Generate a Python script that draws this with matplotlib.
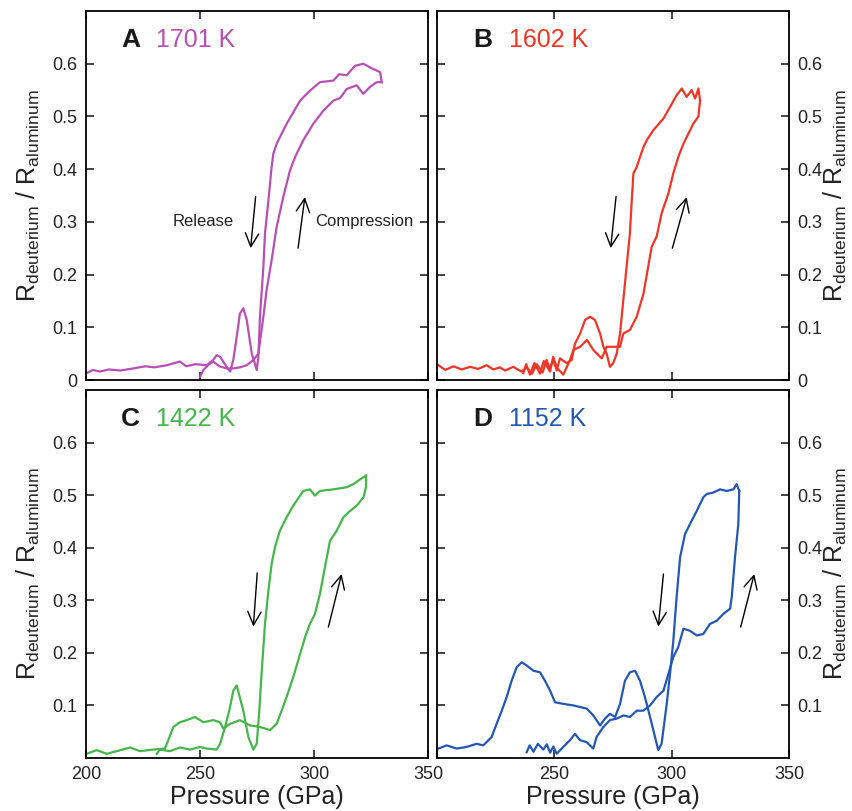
import matplotlib
matplotlib.use('Agg')
import matplotlib.pyplot as plt

plt.rcParams['font.family'] = ['Liberation Sans', 'DejaVu Sans']
plt.rcParams['mathtext.default'] = 'regular'

# ---- data (pressure in GPa, R_D / R_Al) ----
# A: 1701 K
a_rel_p = [329.7, 329.0, 325.0, 321.6, 318.0, 314.3, 311.0, 308.5, 302.6, 298.0, 293.9, 288.0, 283.6,
           282.2, 281.4, 280.0, 278.5, 277.8, 276.3, 275.6, 274.9, 272.7, 270.5, 269.0, 267.5, 266.1,
           264.6, 263.2, 261.7, 258.8, 257.3, 255.8, 252.9, 248.0, 244.0, 241.2, 235.4, 230.0, 226.0,
           220.8, 215.0, 210.0, 206.1, 203.0, 200.3]
a_rel_r = [0.565, 0.584, 0.592, 0.600, 0.596, 0.578, 0.580, 0.568, 0.565, 0.548, 0.530, 0.486, 0.448,
           0.430, 0.404, 0.340, 0.278, 0.215, 0.120, 0.044, 0.019, 0.050, 0.114, 0.136, 0.126, 0.082,
           0.038, 0.016, 0.025, 0.044, 0.047, 0.038, 0.028, 0.030, 0.026, 0.035, 0.028, 0.024, 0.026,
           0.022, 0.018, 0.020, 0.016, 0.019, 0.013]
a_cmp_p = [250.0, 251.5, 253.5, 255.8, 258.5, 261.7, 264.6, 267.5, 270.5, 273.4, 275.6, 277.8, 279.2,
           281.4, 283.6, 286.5, 289.5, 291.7, 295.3, 299.7, 304.1, 308.5, 311.5, 314.3, 318.7, 321.6,
           324.6, 327.5, 329.7]
a_cmp_r = [0.006, 0.019, 0.028, 0.035, 0.026, 0.022, 0.022, 0.024, 0.028, 0.038, 0.050, 0.120, 0.170,
           0.227, 0.290, 0.347, 0.398, 0.423, 0.455, 0.486, 0.511, 0.530, 0.535, 0.552, 0.559, 0.543,
           0.556, 0.565, 0.565]

# B: 1602 K
b_rel_p = [312.1, 311.4, 310.0, 308.5, 306.4, 304.3, 302.1, 299.3, 296.5, 292.2, 289.4, 288.0, 286.5,
           285.1, 283.7, 283.0, 282.2, 280.8, 279.4, 278.0, 276.6, 275.1, 273.7, 272.3, 270.9, 269.5,
           267.3, 265.2, 263.1, 261.0, 258.8, 257.4, 255.3, 252.4, 251.0, 249.6, 248.0, 246.7, 245.0,
           242.5, 240.5, 238.2, 236.0, 232.5, 229.0, 226.8, 224.0, 221.2, 217.5, 214.1, 210.5, 207.0,
           203.5, 200.6]
b_rel_r = [0.530, 0.553, 0.534, 0.550, 0.537, 0.553, 0.540, 0.518, 0.496, 0.474, 0.455, 0.442, 0.423,
           0.404, 0.392, 0.341, 0.278, 0.215, 0.152, 0.088, 0.050, 0.032, 0.025, 0.050, 0.063, 0.088,
           0.114, 0.120, 0.114, 0.088, 0.069, 0.038, 0.032, 0.041, 0.018, 0.038, 0.022, 0.038, 0.014,
           0.030, 0.012, 0.024, 0.016, 0.025, 0.018, 0.024, 0.020, 0.028, 0.021, 0.025, 0.020, 0.026,
           0.019, 0.028]
b_cmp_p = [236.8, 238.0, 239.6, 241.5, 243.9, 245.5, 248.2, 249.5, 251.0, 253.8, 256.7, 258.1, 261.0,
           263.9, 266.6, 270.2, 272.3, 275.1, 278.0, 279.4, 282.2, 285.1, 288.0, 290.0, 291.5, 293.6,
           295.7, 298.6, 300.7, 302.8, 305.0, 307.1, 309.2, 311.4, 312.1]
b_cmp_r = [0.013, 0.030, 0.010, 0.032, 0.012, 0.036, 0.016, 0.044, 0.024, 0.010, 0.038, 0.057, 0.063,
           0.076, 0.057, 0.041, 0.063, 0.063, 0.063, 0.088, 0.095, 0.120, 0.164, 0.215, 0.253, 0.272,
           0.316, 0.354, 0.392, 0.423, 0.448, 0.467, 0.486, 0.500, 0.530]

# C: 1422 K
c_cmp_p = [200.3, 204.7, 209.1, 213.5, 219.3, 223.7, 229.5, 234.6, 236.1, 238.3, 241.2, 244.2, 247.8,
           251.5, 255.8, 258.8, 260.2, 263.2, 267.5, 271.9, 276.3, 280.7, 283.6, 285.8, 288.0, 290.9,
           293.9, 296.1, 298.2, 300.4, 302.6, 304.8, 307.0, 309.9, 312.9, 315.8, 318.7, 321.7, 322.8,
           322.8]
c_cmp_r = [0.008, 0.015, 0.008, 0.013, 0.020, 0.013, 0.016, 0.018, 0.034, 0.059, 0.068, 0.072, 0.078,
           0.068, 0.072, 0.068, 0.056, 0.065, 0.072, 0.062, 0.059, 0.053, 0.065, 0.090, 0.116, 0.154,
           0.198, 0.230, 0.255, 0.274, 0.312, 0.363, 0.413, 0.432, 0.458, 0.470, 0.480, 0.496, 0.515,
           0.537]
c_rel_p = [322.8, 320.2, 317.3, 314.3, 308.5, 302.6, 300.4, 298.2, 295.3, 290.9, 288.0, 285.0, 282.9,
           281.4, 280.0, 278.5, 277.0, 276.0, 274.9, 273.4, 271.2, 269.0, 266.1, 264.6, 263.2, 261.0,
           258.8, 257.3, 252.9, 250.0, 245.6, 241.2, 236.8, 232.5, 231.0]
c_rel_r = [0.537, 0.530, 0.521, 0.515, 0.511, 0.508, 0.499, 0.511, 0.508, 0.480, 0.458, 0.432, 0.401,
           0.369, 0.318, 0.255, 0.160, 0.090, 0.027, 0.016, 0.040, 0.090, 0.138, 0.128, 0.097, 0.059,
           0.027, 0.016, 0.018, 0.021, 0.016, 0.020, 0.013, 0.016, 0.008]

# D: 1152 K
d_cmp_p = [238.2, 239.5, 241.1, 243.0, 245.3, 246.8, 248.2, 249.6, 251.0, 253.8, 256.7, 258.8, 260.9,
           263.8, 266.6, 268.0, 270.9, 273.7, 276.6, 279.4, 282.2, 285.1, 287.9, 290.8, 293.6, 296.5,
           298.6, 300.7, 302.8, 305.0, 307.8, 310.7, 313.5, 316.3, 319.2, 322.0, 324.9, 325.6, 327.0,
           328.4, 328.8]
d_cmp_r = [0.011, 0.024, 0.012, 0.027, 0.016, 0.026, 0.010, 0.022, 0.008, 0.021, 0.034, 0.046, 0.034,
           0.030, 0.018, 0.040, 0.059, 0.072, 0.075, 0.081, 0.078, 0.090, 0.090, 0.100, 0.116, 0.128,
           0.160, 0.192, 0.211, 0.246, 0.242, 0.233, 0.236, 0.255, 0.261, 0.274, 0.284, 0.306, 0.382,
           0.445, 0.508]
d_rel_p = [328.8, 327.7, 326.3, 323.4, 320.6, 317.8, 314.9, 313.5, 310.7, 307.8, 305.7, 303.6, 302.1,
           300.7, 299.3, 297.9, 295.7, 294.3, 292.9, 290.8, 288.6, 286.5, 284.4, 282.2, 280.1, 278.0,
           275.9, 273.7, 271.6, 269.5, 266.6, 263.8, 258.1, 253.8, 250.3, 248.2, 246.0, 243.9, 241.1,
           238.2, 236.1, 234.0, 231.8, 229.7, 227.6, 225.4, 223.3, 219.7, 216.9, 212.6, 208.4, 204.1,
           200.6]
d_rel_r = [0.508, 0.521, 0.511, 0.508, 0.511, 0.505, 0.502, 0.496, 0.470, 0.445, 0.426, 0.382, 0.306,
           0.223, 0.160, 0.103, 0.027, 0.015, 0.040, 0.078, 0.116, 0.147, 0.166, 0.163, 0.147, 0.103,
           0.078, 0.084, 0.075, 0.062, 0.081, 0.094, 0.100, 0.103, 0.106, 0.128, 0.147, 0.163, 0.166,
           0.176, 0.182, 0.173, 0.147, 0.116, 0.090, 0.065, 0.040, 0.024, 0.027, 0.021, 0.018, 0.024,
           0.018]

letters = ['A', 'B', 'C', 'D']
temps = ['1701 K', '1602 K', '1422 K', '1152 K']
colors = ['#b84fb6', '#ee3526', '#45b649', '#2357b5']
curves = [(a_rel_p, a_rel_r, a_cmp_p, a_cmp_r),
          (b_rel_p, b_rel_r, b_cmp_p, b_cmp_r),
          (c_rel_p, c_rel_r, c_cmp_p, c_cmp_r),
          (d_rel_p, d_rel_r, d_cmp_p, d_cmp_r)]
# arrows: (release tail, release head, compression tail, compression head)
arrows = [((274.4, 0.348), (272.2, 0.25), (293.0, 0.25), (296.0, 0.347)),
          ((276.3, 0.348), (274.0, 0.25), (300.3, 0.25), (306.4, 0.347)),
          ((275.1, 0.352), (273.4, 0.25), (306.3, 0.249), (312.1, 0.35)),
          ((296.5, 0.35), (294.3, 0.25), (329.4, 0.249), (335.2, 0.35))]

W, H = 852, 811
boxes = [(86, 11, 428, 380), (437, 11, 789, 380), (86, 390, 428, 758), (437, 390, 789, 758)]

fig = plt.figure(figsize=(8.52, 8.11), dpi=100)
ylab = r'R$_{deuterium}$ / R$_{aluminum}$'

for i in range(4):
    x0, y0, x1, y1 = boxes[i]
    ax = fig.add_axes([x0 / W, 1 - y1 / H, (x1 - x0) / W, (y1 - y0) / H])
    rp, rr, cp, cr = curves[i]
    ax.plot(rp, rr, color=colors[i], lw=1.6)
    ax.plot(cp, cr, color=colors[i], lw=1.6)
    ax.set_xlim(200, 350)
    ax.set_ylim(0, 0.7)
    for s in ax.spines.values():
        s.set_linewidth(1.3)
    ax.tick_params(direction='in', length=6, width=1.2, top=True, right=True,
                   labelsize=13, pad=6, colors='#222222')
    ax.set_xticks([200, 250, 300, 350])
    if i < 2:
        ax.set_yticks([0, 0.1, 0.2, 0.3, 0.4, 0.5, 0.6])
        ax.set_yticklabels(['0', '0.1', '0.2', '0.3', '0.4', '0.5', '0.6'])
        ax.set_xticklabels([])
    else:
        ax.set_yticks([0.1, 0.2, 0.3, 0.4, 0.5, 0.6])
        ax.set_yticklabels(['0.1', '0.2', '0.3', '0.4', '0.5', '0.6'])
        if i == 2:
            ax.set_xticklabels(['200', '250', '300', '350'])
        else:
            ax.set_xticklabels(['', '250', '300', '350'])
        ax.set_xlabel('Pressure (GPa)', fontsize=18, labelpad=1, color='#222222')
    if i % 2 == 1:
        ax.tick_params(labelleft=False, labelright=True)
        fig.text(835 / W, 1 - (y0 + y1) / 2 / H, ylab, rotation=90, fontsize=18,
                 ha='center', va='center', color='#222222')
    else:
        fig.text(28 / W, 1 - (y0 + y1) / 2 / H, ylab, rotation=90, fontsize=18,
                 ha='center', va='center', color='#222222')

    ax.text(0.102, 0.902, letters[i], transform=ax.transAxes, fontsize=19, fontweight='bold',
            family=['Liberation Sans Narrow', 'Liberation Sans'], color='#1a1a1a', va='baseline')
    ax.text(0.205, 0.902, temps[i], transform=ax.transAxes, fontsize=18, color=colors[i],
            va='baseline')

    rt, rh, ct, ch = arrows[i]
    for tail, head in [(rt, rh), (ct, ch)]:
        ax.annotate('', xy=head, xytext=tail,
                    arrowprops=dict(arrowstyle='->', lw=1.0, color='black', mutation_scale=24,
                                    shrinkA=0, shrinkB=0))
    if i == 0:
        ax.text(265.0, 0.30, 'Release', fontsize=12, ha='right', va='center', color='#222222')
        ax.text(300.6, 0.30, 'Compression', fontsize=12, ha='left', va='center', color='#222222')

fig.savefig('out.png', dpi=100)
